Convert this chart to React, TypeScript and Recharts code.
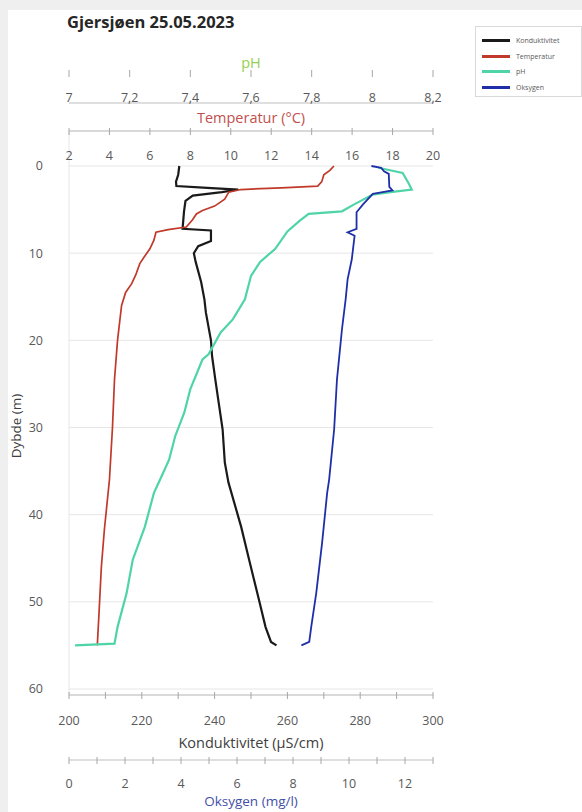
import {
  CartesianGrid,
  Label,
  Legend,
  Scatter,
  ScatterChart,
  XAxis,
  YAxis,
} from "recharts";

// Profile values, depth in metres
const kondDepth = [0, 1, 1.8, 2.3, 2.5, 2.7, 3, 3.4, 4, 5.2, 7.2, 7.4, 8.6, 9.2, 10, 11, 13.3, 15.3, 16.8, 20, 21.8, 24.5, 26.8, 30.2, 34, 36.3, 41.4, 45.2, 49.8, 52.9, 54.6, 55];
const kondValue = [230.3, 230, 229.4, 229.5, 238, 246.5, 242, 234, 232, 231.6, 231.2, 239, 239, 235.5, 234.3, 234.8, 236.3, 237.2, 237.6, 239, 239.3, 240.2, 241, 242.2, 242.8, 243.8, 247.3, 249.5, 252.2, 254, 255.5, 257];

const tempDepth = [0, 0.5, 1, 1.8, 2.3, 2.5, 2.7, 3, 3.8, 4.6, 5.1, 5.5, 6.2, 7, 7.3, 7.6, 8.5, 9.5, 10.5, 11.2, 12.5, 13.5, 14.5, 16, 18, 20, 24.5, 30, 36, 41.7, 46, 50.6, 55];
const tempValue = [15.1, 14.9, 14.6, 14.5, 14.3, 12.5, 10.5, 9.9, 9.7, 9.2, 8.6, 8.3, 8.1, 7.8, 6.9, 6.3, 6.2, 6, 5.7, 5.5, 5.3, 5.1, 4.8, 4.6, 4.5, 4.4, 4.25, 4.15, 4, 3.75, 3.6, 3.5, 3.4];

const phDepth = [0.2, 0.8, 2, 2.7, 3, 3.3, 4.4, 5.2, 5.5, 6.3, 7.5, 9.5, 11, 12.6, 15.3, 17.6, 19.1, 21.6, 22.2, 25.6, 28.3, 31, 33.7, 36, 37.5, 41.4, 45.2, 49, 52.9, 54.8, 55];
const phValue = [8.02, 8.1, 8.12, 8.13, 8.06, 8, 7.94, 7.9, 7.79, 7.76, 7.72, 7.68, 7.63, 7.6, 7.58, 7.54, 7.5, 7.46, 7.44, 7.4, 7.38, 7.35, 7.33, 7.3, 7.28, 7.25, 7.21, 7.19, 7.16, 7.15, 7.02];

const oksDepth = [0, 0.2, 0.6, 0.9, 2.4, 2.8, 3, 3.2, 4.4, 5.3, 7.2, 7.6, 8, 10.7, 13, 15.3, 18.7, 24.5, 30.2, 36, 37.5, 43.2, 49, 52.9, 54.6, 55];
const oksValue = [10.8, 11.15, 11.25, 11.42, 11.44, 11.55, 11.2, 10.85, 10.5, 10.27, 10.27, 9.95, 10.2, 10.1, 9.95, 9.88, 9.75, 9.57, 9.47, 9.29, 9.22, 9.04, 8.83, 8.65, 8.58, 8.3];

// Axis ticks
const depthTicks = [0, 10, 20, 30, 40, 50, 60];
const phTicks = [7, 7.2, 7.4, 7.6, 7.8, 8, 8.2];
const tempTicks = [2, 4, 6, 8, 10, 12, 14, 16, 18, 20];
const kondTicks = [200, 210, 220, 230, 240, 250, 260, 270, 280, 290, 300];
const oksTicks = [0, 1, 2, 3, 4, 5, 6, 7, 8, 9, 10, 11, 12, 13];

const legendOrder = ["Konduktivitet", "Temperatur", "pH", "Oksygen"];

const toPoints = (depth: number[], value: number[]) =>
  depth.map((d, i) => ({ depth: d, value: value[i] }));

const FONT = "'Open Sans', sans-serif";
const TICK_COLOR = "#595959";
const LINE_COLOR = "#bfbfbf";

const fmt = (v: number) => String(v).replace(".", ",");

// Excel-style tick: mark crossing the axis line, label placed at a fixed row
const makeTick =
  (lineY: number, labelY: number, labelled: (v: number) => boolean) =>
  (p: any) => {
    const v = p.payload.value as number;
    return (
      <g>
        <line x1={p.x} x2={p.x} y1={lineY - 3} y2={lineY + 4} stroke="#a6a6a6" />
        {labelled(v) && (
          <text
            x={p.x}
            y={labelY}
            textAnchor="middle"
            dominantBaseline="central"
            fontSize={12.5}
            fontFamily={FONT}
            fill={TICK_COLOR}
          >
            {fmt(v)}
          </text>
        )}
      </g>
    );
  };

const axisTitle =
  (text: string, color: string, y: number, size = 14.5) =>
  (p: any) => {
    const vb = p.viewBox;
    return (
      <text
        x={vb.x + vb.width / 2}
        y={y}
        textAnchor="middle"
        dominantBaseline="central"
        fontSize={size}
        fontFamily={FONT}
        fill={color}
      >
        {text}
      </text>
    );
  };

const renderLegend = ({ payload }: any) => {
  const items = [...(payload || [])].sort(
    (a: any, b: any) => legendOrder.indexOf(a.value) - legendOrder.indexOf(b.value)
  );
  return (
    <div
      style={{
        border: "1px solid #d9d9d9",
        background: "#fff",
        padding: "6px 0 4px 6px",
        boxSizing: "border-box",
        height: 71,
      }}
    >
      {items.map((e: any) => (
        <div
          key={e.value}
          style={{ display: "flex", alignItems: "center", height: 15.5 }}
        >
          <span
            style={{
              display: "inline-block",
              width: 28,
              height: 3,
              background: e.color,
              marginRight: 6,
            }}
          />
          <span style={{ fontSize: 7, fontFamily: FONT, color: TICK_COLOR }}>
            {e.value}
          </span>
        </div>
      ))}
    </div>
  );
};

const noDot = () => <g />;

export default function App() {
  return (
    <div
      style={{
        position: "absolute",
        left: 0,
        top: 0,
        width: 582,
        height: 812,
        background: "#efefef",
      }}
    >
      <div
        style={{
          position: "absolute",
          left: 8,
          top: 10,
          right: 0,
          bottom: 0,
          background: "#fff",
        }}
      />
      <div
        style={{
          position: "absolute",
          left: 67,
          top: 10,
          fontFamily: FONT,
          fontWeight: 700,
          fontSize: 16.5,
          lineHeight: "24px",
          color: "#262626",
        }}
      >
        Gjersjøen 25.05.2023
      </div>
      <div style={{ position: "absolute", left: 0, top: 0 }}>
        <ScatterChart
          width={582}
          height={812}
          margin={{ top: 45, right: 149, bottom: 0, left: 0 }}
        >
          <CartesianGrid xAxisId="kond" vertical={false} stroke="#e6e6e6" />
          <XAxis
            xAxisId="temp"
            orientation="top"
            type="number"
            dataKey="value"
            domain={[2, 20]}
            ticks={tempTicks}
            height={58}
            axisLine={{ stroke: LINE_COLOR }}
            tickLine={false}
            tick={makeTick(131, 155, () => true)}
            label={<Label content={axisTitle("Temperatur (°C)", "#c0504d", 117)} />}
          />
          <XAxis
            xAxisId="ph"
            orientation="top"
            type="number"
            dataKey="value"
            domain={[7, 8.2]}
            ticks={phTicks}
            height={28}
            axisLine={{ stroke: LINE_COLOR }}
            tickLine={false}
            tick={makeTick(73, 97, () => true)}
            label={<Label content={axisTitle("pH", "#92d050", 62)} />}
          />
          <XAxis
            xAxisId="kond"
            orientation="bottom"
            type="number"
            dataKey="value"
            domain={[200, 300]}
            ticks={kondTicks}
            height={65}
            axisLine={{ stroke: LINE_COLOR }}
            tickLine={false}
            tick={makeTick(695, 720, (v) => v % 20 === 0)}
            label={
              <Label content={axisTitle("Konduktivitet (µS/cm)", "#404040", 742)} />
            }
          />
          <XAxis
            xAxisId="oks"
            orientation="bottom"
            type="number"
            dataKey="value"
            domain={[0, 13]}
            ticks={oksTicks}
            height={52}
            axisLine={{ stroke: LINE_COLOR }}
            tickLine={false}
            tick={makeTick(760, 783, (v) => v % 2 === 0)}
            label={
              <Label content={axisTitle("Oksygen (mg/l)", "#3f4fa8", 801, 13.5)} />
            }
          />
          <YAxis
            type="number"
            dataKey="depth"
            domain={[0, 60]}
            ticks={depthTicks}
            reversed
            width={69}
            padding={{ top: 35, bottom: 6 }}
            axisLine={{ stroke: "#e6e6e6" }}
            tickLine={false}
            tickSize={0}
            tickMargin={26}
            tick={{ fontSize: 12.5, fontFamily: FONT, fill: TICK_COLOR }}
            label={
              <Label
                content={() => (
                  <text
                    x={16}
                    y={426}
                    transform="rotate(-90 16 426)"
                    textAnchor="middle"
                    dominantBaseline="central"
                    fontSize={13.5}
                    fontFamily={FONT}
                    fill="#404040"
                  >
                    Dybde (m)
                  </text>
                )}
              />
            }
          />
          <Legend
            layout="vertical"
            align="center"
            verticalAlign="middle"
            wrapperStyle={{ left: 475, top: 26, width: 107 }}
            content={renderLegend}
          />
          <Scatter
            name="Konduktivitet"
            data={toPoints(kondDepth, kondValue)}
            xAxisId="kond"
            fill="#1a1a1a"
            line={{ stroke: "#1a1a1a", strokeWidth: 2.2 }}
            lineType="joint"
            shape={noDot}
            isAnimationActive={false}
          />
          <Scatter
            name="Temperatur"
            data={toPoints(tempDepth, tempValue)}
            xAxisId="temp"
            fill="#c0392b"
            line={{ stroke: "#c0392b", strokeWidth: 1.7 }}
            lineType="joint"
            shape={noDot}
            isAnimationActive={false}
          />
          <Scatter
            name="pH"
            data={toPoints(phDepth, phValue)}
            xAxisId="ph"
            fill="#4fd4a8"
            line={{ stroke: "#4fd4a8", strokeWidth: 2.2 }}
            lineType="joint"
            shape={noDot}
            isAnimationActive={false}
          />
          <Scatter
            name="Oksygen"
            data={toPoints(oksDepth, oksValue)}
            xAxisId="oks"
            fill="#1f2fa8"
            line={{ stroke: "#1f2fa8", strokeWidth: 1.8 }}
            lineType="joint"
            shape={noDot}
            isAnimationActive={false}
          />
        </ScatterChart>
      </div>
    </div>
  );
}
